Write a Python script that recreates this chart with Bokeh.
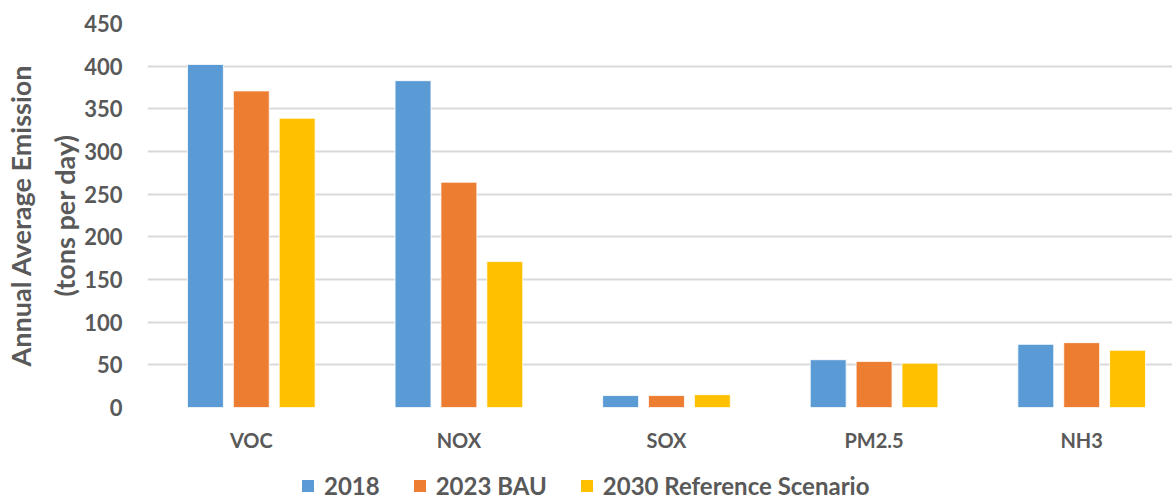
from bokeh.plotting import figure
from bokeh.layouts import column
from bokeh.models import ColumnDataSource, Range1d, FixedTicker, Legend, LegendItem
from bokeh.embed import file_html
from bokeh.resources import INLINE

categories = ["VOC", "NOX", "SOX", "PM2.5", "NH3"]
series_names = ["2018", "2023 BAU", "2030 Reference Scenario"]
v2018 = [402, 383, 14, 56, 74]
v2023 = [371, 264, 14, 54, 76]
v2030 = [339, 171, 15, 52, 67]
colors = ["#5B9BD5", "#ED7D31", "#FFC000"]

FONT = "Lato"
TXT = "#595959"

p = figure(width=1172, height=454, output_backend="svg", toolbar_location=None,
           x_range=Range1d(0, 4.9375), y_range=Range1d(0, 450),
           min_border_left=145, min_border_right=0, min_border_top=23,
           min_border_bottom=46)
p.outline_line_color = None
p.background_fill_color = "white"

offsets = [-0.221, 0.0, 0.221]
sources = []
for vals, off, col in zip([v2018, v2023, v2030], offsets, colors):
    src = ColumnDataSource(dict(x=[i + 0.5 + off for i in range(len(categories))], top=vals))
    sources.append(src)
    p.vbar(x="x", top="top", width=0.173, source=src, fill_color=col,
           line_color="white", line_width=0.8)

p.xaxis.ticker = FixedTicker(ticks=[i + 0.5 for i in range(len(categories))])
p.xaxis.major_label_overrides = {i + 0.5: c for i, c in enumerate(categories)}
p.yaxis.ticker = FixedTicker(ticks=list(range(0, 451, 50)))
p.xgrid.visible = False
p.ygrid.grid_line_color = "#d9d9d9"
p.ygrid.grid_line_width = 2

for ax in [p.xaxis[0], p.yaxis[0]]:
    ax.axis_line_color = None
    ax.major_tick_line_color = None
    ax.minor_tick_line_color = None
    ax.major_tick_in = 0
    ax.major_tick_out = 0
    ax.major_label_text_font = FONT
    ax.major_label_text_font_style = "bold"
    ax.major_label_text_color = TXT

p.xaxis.major_label_text_font_size = "20px"
p.yaxis.major_label_text_font_size = "22px"
p.xaxis.major_label_standoff = 20
p.yaxis.major_label_standoff = 25
p.yaxis.axis_label = "Annual Average Emission\n(tons per day)"
p.yaxis.axis_label_text_font = FONT
p.yaxis.axis_label_text_font_style = "bold"
p.yaxis.axis_label_text_color = TXT
p.yaxis.axis_label_text_font_size = "27px"
p.yaxis.axis_label_text_line_height = 1.35
p.yaxis.axis_label_standoff = 0

# legend strip: hidden renderers, only the legend is drawn
lg = figure(width=1172, height=50, output_backend="svg", toolbar_location=None,
            x_range=Range1d(0, 4.9375), y_range=Range1d(0, 450),
            x_axis_location=None, y_axis_location=None,
            min_border=0)
lg.outline_line_color = None
lg.xgrid.visible = False
lg.ygrid.visible = False
items = []
for name, col, src in zip(series_names, colors, sources):
    r = lg.vbar(x="x", top="top", width=0.173, source=src, fill_color=col, line_color=None)
    r.visible = False
    items.append(LegendItem(label=name, renderers=[r]))

legend = Legend(items=items, orientation="horizontal", location=(153, 4),
                label_text_font=FONT, label_text_font_style="bold",
                label_text_color=TXT, label_text_font_size="24px",
                glyph_width=15, glyph_height=15, spacing=32, label_standoff=9,
                inactive_fill_alpha=0,
                border_line_color=None, background_fill_alpha=0, padding=0, margin=0)
lg.add_layout(legend, "center")

layout = column(p, lg, spacing=0)
open("out.html", "w").write(file_html(layout, INLINE))
